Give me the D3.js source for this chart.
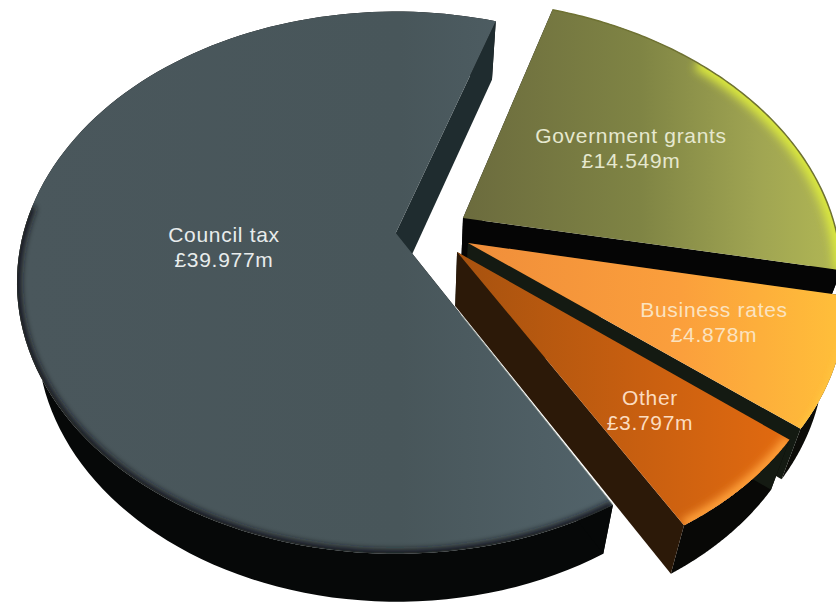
<!DOCTYPE html>
<html>
<head>
<meta charset="utf-8">
<title>Income sources</title>
<script src="https://cdn.jsdelivr.net/npm/d3@7/dist/d3.min.js"></script>
<style>
  html, body { margin: 0; padding: 0; background: #fff; }
  svg { display: block; }
  text { font-family: "Liberation Sans", Arial, sans-serif; font-size: 21px; letter-spacing: 0.7px; text-anchor: middle; }
</style>
</head>
<body>
<script>
// Income by source, £ million, in clockwise order from the top of the pie
const categories = ["Government grants", "Business rates", "Other", "Council tax"];
const amounts = [14.549, 4.878, 3.797, 39.977];

// How far each slice is pulled out of the pie, in disc units (across, down)
const explode = [[0.184, -0.0575], [0.194, 0.038], [0.164, 0.0715], [0.002, 0]];
const radii = [1, 0.98, 0.977, 0.997];
const labelCentres = [[631, 143], [714, 317], [650, 405], [224, 242]];
const labelColours = ["#e6e8cf", "#fbe3c0", "#fbdcc0", "#e8ecec"];

const topStops = [
  [[470, "#6c6c3e"], [640, "#7f8444"], [760, "#a0a552"], [835, "#b0b654"]],
  [[470, "#f08e3a"], [680, "#fb9f3c"], [836, "#ffbe3a"]],
  [[470, "#a9530f"], [640, "#c85f10"], [790, "#e26a10"]],
  [[20, "#4a575c"], [400, "#48565a"], [610, "#52636a"]]
];
// Soft glow or shadow just inside the outer edge; from/to are fractions of the arc
const rimShade = [
  { colour: "#dcea3c", width: 14, blur: 5, from: 0.35, to: 1 },
  { colour: "#ffc23c", width: 6, blur: 2.5, from: 0, to: 1 },
  { colour: "#ffa13a", width: 12, blur: 4, from: 0, to: 1 },
  { colour: "#14181a", width: 8, blur: 3, from: 0, to: 0.55 }
];
const edgeLine = ["#6f7233", "none", "none", "none"];
const wallColours = [
  { rim: "#060606", start: "#050505", end: "#050505" },
  { rim: "#0c0c08", start: "#141a12", end: "#141a12" },
  { rim: "#080806", start: "#141a12", end: "#2c1908" },
  { rim: "#060808", start: "#060808", end: "#1f2c2f" }
];

const width = 836, height = 603;
const svg = d3.select("body").append("svg").attr("width", width).attr("height", height);
const defs = svg.append("defs");

// Flat disc to screen: an ellipse seen in perspective, with the hub drawn above its middle
const screenX = d3.scaleLinear().domain([-1, 1]).range([15, 775]);
const screenY = d3.scaleLinear().domain([-1, 1]).range([11, 555]);
const tilt = -0.184, squeeze = Math.sqrt(1 - tilt * tilt);
const project = ([u, v]) => {
  const w = 1 + tilt * v;
  return [screenX(u * squeeze / w), screenY((v + tilt) / w)];
};
// The underside of the pie sits lower and slightly narrower
const drop = ([x, y]) => [420 + (x - 420) * 0.95, 0.98 * y + 59];

const pieLayout = d3.pie().sort(null).value(d => d)
  .startAngle(18.4 * Math.PI / 180)
  .endAngle((360 + 18.4) * Math.PI / 180);
const arcs = pieLayout(amounts);

const line = d3.line();
const closed = pts => line(pts) + "Z";

const slices = arcs.map((a, i) => {
  const [ox, oy] = explode[i];
  const r = radii[i];
  const steps = d3.range(0, 121).map(k => a.startAngle + (a.endAngle - a.startAngle) * k / 120);
  const rim = steps.map(t => project([ox + r * Math.sin(t), oy - r * Math.cos(t)]));
  const hub = project([ox, oy]);
  return { i, hub, rim };
});

slices.forEach(s => {
  const stops = topStops[s.i];
  const x0 = stops[0][0], x1 = stops[stops.length - 1][0];
  const grad = defs.append("linearGradient")
    .attr("id", "top" + s.i).attr("gradientUnits", "userSpaceOnUse")
    .attr("x1", x0).attr("x2", x1).attr("y1", 0).attr("y2", 0);
  stops.forEach(([x, c]) => grad.append("stop").attr("offset", (x - x0) / (x1 - x0)).attr("stop-color", c));
  defs.append("clipPath").attr("id", "clip" + s.i)
    .append("path").attr("d", closed([s.hub, ...s.rim]));
  defs.append("filter").attr("id", "soft" + s.i)
    .attr("x", "-20%").attr("y", "-20%").attr("width", "140%").attr("height", "140%")
    .append("feGaussianBlur").attr("stdDeviation", rimShade[s.i].blur);
});

// Painted back to front: grants, business rates, other, then council tax on top
slices.forEach(s => {
  const g = svg.append("g");
  const w = wallColours[s.i];
  const shade = rimShade[s.i];
  const rimLow = s.rim.map(drop);
  const first = s.rim[0], last = s.rim[s.rim.length - 1];
  const hubLow = drop(s.hub);

  g.append("path").attr("fill", w.rim).attr("d", closed([...s.rim, ...rimLow.slice().reverse()]));
  g.append("path").attr("fill", w.start).attr("d", closed([s.hub, first, drop(first), hubLow]));
  g.append("path").attr("fill", w.end).attr("d", closed([s.hub, last, drop(last), hubLow]));

  g.append("path").attr("fill", `url(#top${s.i})`).attr("d", closed([s.hub, ...s.rim]));
  g.append("g").attr("clip-path", `url(#clip${s.i})`)
    .append("path")
    .attr("fill", "none")
    .attr("stroke", shade.colour)
    .attr("stroke-width", shade.width)
    .attr("filter", `url(#soft${s.i})`)
    .attr("d", line(s.rim.slice(Math.round(shade.from * 120), Math.round(shade.to * 120) + 1)));
  g.append("path").attr("fill", "none").attr("stroke", edgeLine[s.i]).attr("stroke-width", 1.5)
    .attr("d", line(s.rim));
});

// A thin pale line along the cut edge of the council tax slice
const council = slices[3];
const edgeStart = d3.interpolateArray(council.hub, council.rim[0])(0.3);
svg.append("path").attr("fill", "none").attr("stroke", "#9aa5a0").attr("stroke-width", 1)
  .attr("d", line([edgeStart, council.rim[0]]));

// Two-line value labels
slices.forEach(s => {
  const [cx, cy] = labelCentres[s.i];
  const t = svg.append("text").attr("fill", labelColours[s.i]);
  t.append("tspan").attr("x", cx).attr("y", cy).text(categories[s.i]);
  t.append("tspan").attr("x", cx).attr("y", cy + 25).text("£" + amounts[s.i].toFixed(3) + "m");
});
</script>
</body>
</html>
